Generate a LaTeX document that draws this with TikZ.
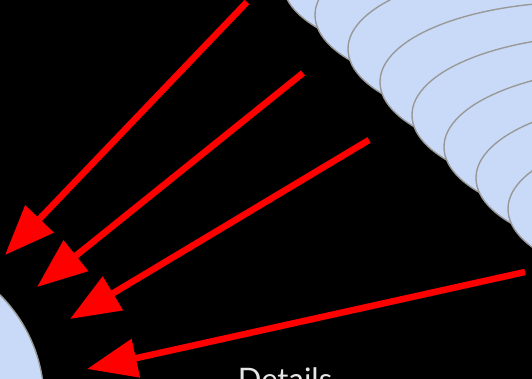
\documentclass[tikz,border=0pt]{standalone}
\usepackage{fontspec}
\setmainfont{Lato}
\usetikzlibrary{arrows.meta,shapes.geometric}
\definecolor{lblue}{HTML}{C9DAF8}
\definecolor{edgegray}{HTML}{999999}
\definecolor{txtgray}{HTML}{E6E6E6}
\begin{document}
\begin{tikzpicture}[x=1pt,y=-1pt,
  blob/.style={ellipse, draw=edgegray, fill=lblue, line width=1.4pt, inner sep=0pt,
               minimum width=400pt, minimum height=160pt},
  redarrow/.style={draw=red, line width=6.5pt, -{Triangle[length=50pt,width=38pt]}}]
\useasboundingbox (0,0) rectangle (532,379);
\clip (0,0) rectangle (532,379);
\fill[black] (0,0) rectangle (532,379);
% stack of ellipses, top-left first
\foreach \i/\cx/\cy in {1/483/-17, 2/515/15, 3/548/49, 4/580/82, 5/612/115, 6/644/147, 7/676/178, 8/708/209}
  \node[blob] (e\i) at (\cx,\cy) {};
% bottom-left ellipse
\node[ellipse, draw=edgegray, fill=lblue, line width=1.4pt, inner sep=0pt, minimum width=300pt, minimum height=300pt] (left) at (-106,401) {};
% arrows
\coordinate (s1) at (247,2);   \coordinate (t1) at (5,255);
\coordinate (s2) at (303,73);  \coordinate (t2) at (37,287);
\coordinate (s3) at (369,140); \coordinate (t3) at (70,319);
\coordinate (s4) at (525,272); \coordinate (t4) at (87,369);
\draw[redarrow] (s1) -- (t1);
\draw[redarrow] (s2) -- (t2);
\draw[redarrow] (s3) -- (t3);
\draw[redarrow] (s4) -- (t4);
\node[text=txtgray, font=\fontsize{31}{31}\selectfont, anchor=base, inner sep=0pt] (details) at (285,390) {Details};
\end{tikzpicture}
\end{document}
